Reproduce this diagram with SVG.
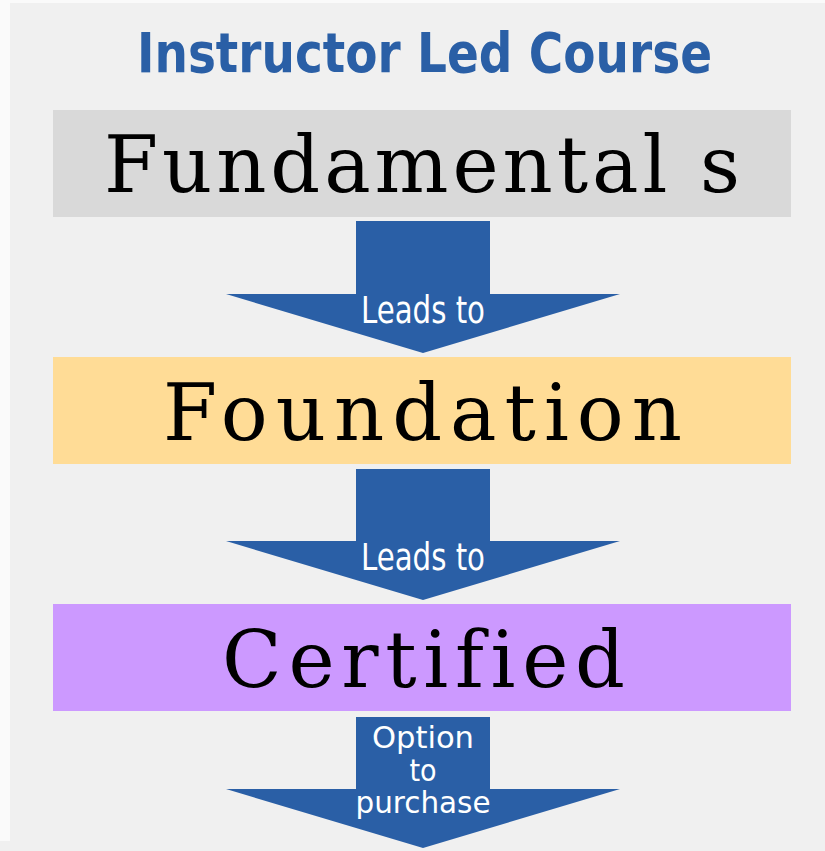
<svg xmlns="http://www.w3.org/2000/svg" width="825" height="851" viewBox="0 0 825 851">
<style>
.box-label{font-family:"DejaVu Serif","Liberation Serif",serif;font-size:78px;fill:#000;font-variant-ligatures:none}
.arrow{fill:#2A5FA6}
.alabel{font-family:"DejaVu Sans Condensed","Liberation Sans Narrow","Open Sans",sans-serif;font-size:37px;fill:#fff;text-anchor:middle}
.alabel2{font-family:"DejaVu Sans Condensed","Liberation Sans Narrow","Open Sans",sans-serif;font-size:30px;fill:#fff;text-anchor:middle}
.title{font-family:"DejaVu Sans Condensed","Liberation Sans",sans-serif;font-weight:bold;font-size:55px;fill:#2A5FA6}
</style>
<rect x="0" y="0" width="825" height="851" fill="#FAFAFA"/>
<rect x="10" y="3" width="815" height="848" fill="#F0F0F0"/>
<rect x="0" y="841" width="10" height="10" fill="#F0F0F0"/>
<text class="title" x="137" y="72" textLength="575" lengthAdjust="spacingAndGlyphs">Instructor Led Course</text>
<g id="fundamentals">
<rect x="53" y="110" width="738" height="107" fill="#D9D9D9"/>
<text class="box-label" x="104" y="192" textLength="636" lengthAdjust="spacing">Fundamental s</text>
</g>
<g id="foundation">
<rect x="53" y="357" width="738" height="107" fill="#FFDC96"/>
<text class="box-label" x="163" y="440" textLength="519" lengthAdjust="spacing">Foundation</text>
</g>
<g id="certified">
<rect x="53" y="604" width="738" height="107" fill="#CC99FF"/>
<text class="box-label" x="222" y="687" textLength="403" lengthAdjust="spacing">Certified</text>
</g>
<g id="connectors">
<g id="arrow1">
<polygon class="arrow" points="356,221 490,221 490,294 620,294 423,353 226,294 356,294"/>
<text class="alabel" x="423" y="323" textLength="124" lengthAdjust="spacingAndGlyphs">Leads to</text>
</g>
<g id="arrow2">
<polygon class="arrow" points="356,469 490,469 490,541 620,541 423,600 226,541 356,541"/>
<text class="alabel" x="423" y="570" textLength="124" lengthAdjust="spacingAndGlyphs">Leads to</text>
</g>
<g id="arrow3">
<polygon class="arrow" points="356,717 490,717 490,789 620,789 423,848 226,789 356,789"/>
<text class="alabel2" x="423" y="748" textLength="102" lengthAdjust="spacingAndGlyphs">Option</text>
<text class="alabel2" x="423" y="781">to</text>
<text class="alabel2" x="423" y="813" textLength="135" lengthAdjust="spacingAndGlyphs">purchase</text>
</g>
</g>
</svg>
